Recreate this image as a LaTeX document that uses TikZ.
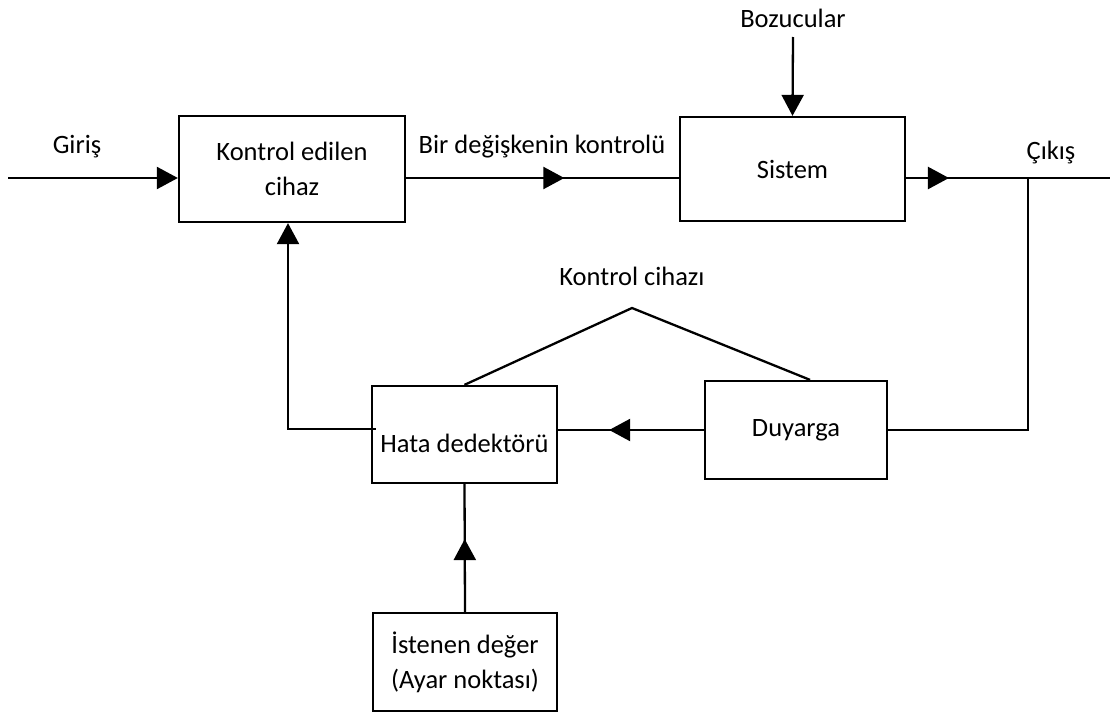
\documentclass[tikz,border=0pt]{standalone}
\usepackage{fontspec}
\setmainfont{Carlito}
\usetikzlibrary{positioning}
\usetikzlibrary{calc}
\usetikzlibrary{arrows.meta}
\usetikzlibrary{decorations.markings}

\tikzset{
    blok/.style 2 args={draw, line width=2.3pt, align=center, minimum width=#1, minimum height=#2, inner sep=0pt},
    hat/.style={line width=2.3pt},
    uc/.style={hat, -{Triangle[length=21pt, width=22pt]}},
    orta/.style={hat, postaction={decorate}, decoration={markings, mark=at position #1 with {\arrow{Triangle[length=21pt, width=22pt]}}}},
    yazi/.style={align=center, inner sep=0pt}
}

\begin{document}
\begin{tikzpicture}[x=1pt, y=-1pt, every node/.style={font=\fontsize{26.5}{35}\selectfont}]
        \useasboundingbox (0,0) rectangle (1110,712);
        \node[blok={226pt}{106pt}] (kontrol) at (292,169) {Kontrol edilen\\cihaz};
        \node[blok={225pt}{104pt}] (sistem) at (792.5,169) {Sistem};
        \node[blok={185pt}{97pt}] (hata) at (464.5,434.5) {};
        \node[yazi] at (464.5,443) {Hata dedektörü};
        \node[blok={182pt}{98pt}] (duyarga) at (796,430) {Duyarga};
        \node[blok={184pt}{98pt}] (istenen) at (465,662) {İstenen değer\\(Ayar noktası)};

        \node[yazi] (giris) at (77,147) {Giriş};
        \node[yazi] (bozucular) at (793,18) {Bozucular};
        \node[yazi] (degisken) at (542,147) {Bir değişkenin kontrolü};
        \node[yazi] (cikis) at (1051,153) {Çıkış};
        \node[yazi] (kcihaz) at (632,276) {Kontrol cihazı};

        \coordinate (g0) at (8,178);
        \coordinate (c1) at (1110,178);
        \coordinate (dal) at (1028,178);
        \coordinate (geri) at (288,429);
        \coordinate (tepe) at (632,308);

        \draw[uc] (g0) -- (kontrol.west |- g0);
        \draw[orta=0.58] (kontrol.east |- g0) -- (sistem.west |- g0);
        \draw[orta=0.21] (sistem.east |- g0) -- (c1);
        \draw[uc] (793,37) -- (sistem.north);
        \draw[hat] (dal) |- (duyarga.east);
        \draw[orta=0.65] (duyarga.west) -- (hata.east |- duyarga.west);
        \draw[uc] ($(hata.west |- geri)+(5,0)$) -- (geri) -- (geri |- kontrol.south);
        \draw[orta=0.57] (istenen.north) -- (hata.south);
        \draw[hat] (hata.north) -- (tepe) -- ($(duyarga.north)+(14,0)$);
\end{tikzpicture}
\end{document}
